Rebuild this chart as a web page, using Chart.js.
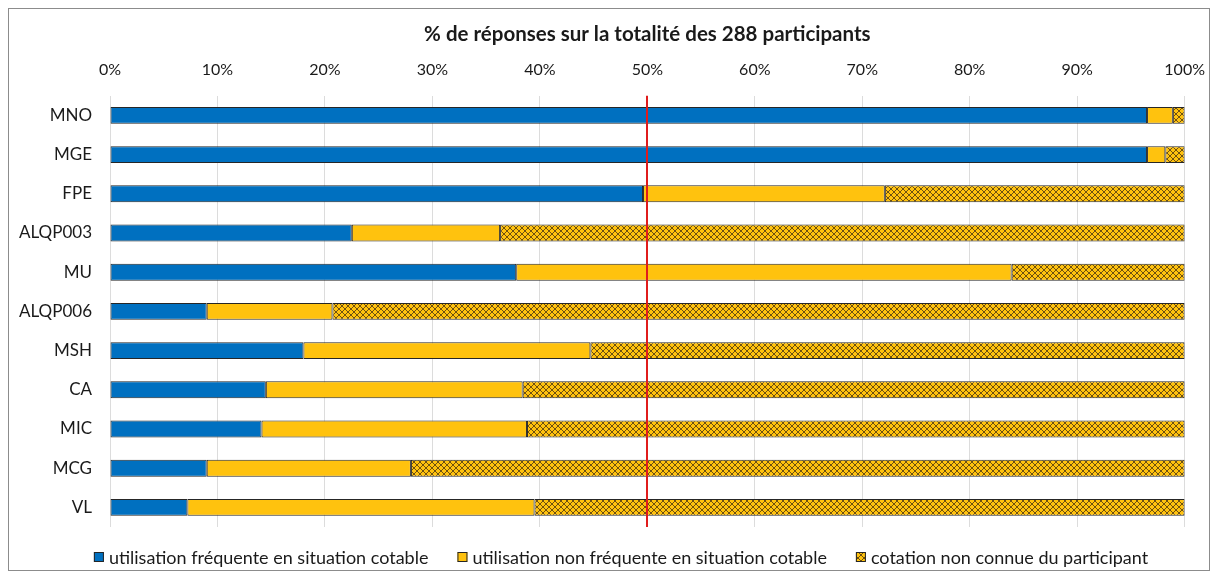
<!DOCTYPE html>
<html>
<head>
<meta charset="utf-8">
<script src="https://cdn.jsdelivr.net/npm/chart.js@4"></script>
<style>
  html, body { margin: 0; padding: 0; background: #fff; }
  #wrap {
    position: absolute; left: 8px; top: 8px;
    width: 1200px; height: 561px;
    border: 1px solid #8c8c8c;
  }
</style>
</head>
<body>
<div id="wrap"><canvas id="chart" width="1200" height="561"></canvas></div>
<script>
const categories = ['MNO', 'MGE', 'FPE', 'ALQP003', 'MU', 'ALQP006', 'MSH', 'CA', 'MIC', 'MCG', 'VL'];
const frequent = [96.5, 96.5, 49.6, 22.5, 37.8, 9.0, 18.0, 14.5, 14.1, 9.0, 7.2];
const notFrequent = [2.4, 1.7, 22.5, 13.8, 46.1, 11.7, 26.7, 23.9, 24.7, 19.0, 32.3];
const unknown = [1.1, 1.8, 27.9, 63.7, 16.1, 79.3, 55.3, 61.6, 61.2, 72.0, 60.5];
const xTicks = [0, 10, 20, 30, 40, 50, 60, 70, 80, 90, 100];
const seriesNames = [
  'utilisation fréquente en situation cotable',
  'utilisation non fréquente en situation cotable',
  'cotation non connue du participant'
];

const FONT = "'Lato', 'Open Sans', sans-serif";

// crosshatch pattern for the third series
function makeHatch() {
  const c = document.createElement('canvas');
  c.width = 6; c.height = 6;
  const g = c.getContext('2d');
  g.fillStyle = '#FFC20E';
  g.fillRect(0, 0, 6, 6);
  g.strokeStyle = '#6e5010';
  g.lineWidth = 1;
  g.beginPath();
  g.moveTo(0, 0); g.lineTo(6, 6);
  g.moveTo(6, 0); g.lineTo(0, 6);
  g.stroke();
  return g.createPattern(c, 'repeat');
}

// red line at 50%
const midLine = {
  id: 'midLine',
  afterDatasetsDraw(chart) {
    const x = Math.round(chart.scales.x.getPixelForValue(50));
    const area = chart.chartArea;
    const ctx = chart.ctx;
    ctx.save();
    ctx.strokeStyle = '#e01c1c';
    ctx.lineWidth = 2;
    ctx.beginPath();
    ctx.moveTo(x, area.top);
    ctx.lineTo(x, area.bottom);
    ctx.stroke();
    ctx.restore();
  }
};

// legend drawn by hand so the spacing can follow the original
const bottomLegend = {
  id: 'bottomLegend',
  afterDraw(chart) {
    const ctx = chart.ctx;
    const box = 10, boxGap = 5, itemGap = 29;
    ctx.save();
    ctx.font = '18px ' + FONT;
    ctx.textBaseline = 'middle';
    const items = chart.data.datasets.map(ds => ({
      text: ds.label, fill: ds.backgroundColor, w: ctx.measureText(ds.label).width
    }));
    const total = items.reduce((s, it) => s + box + boxGap + it.w, 0) + itemGap * (items.length - 1);
    let x = chart.width / 2 + 12 - total / 2;
    const y = 548;
    items.forEach(it => {
      ctx.fillStyle = it.fill;
      ctx.fillRect(x, y - box / 2, box, box);
      ctx.strokeStyle = '#262626';
      ctx.lineWidth = 1;
      ctx.strokeRect(x + 0.5, y - box / 2 + 0.5, box - 1, box - 1);
      ctx.fillStyle = '#1a1a1a';
      ctx.fillText(it.text, x + box + boxGap, y + 1);
      x += box + boxGap + it.w + itemGap;
    });
    ctx.restore();
  }
};

Chart.defaults.font.family = FONT;
Chart.defaults.color = '#1a1a1a';

new Chart(document.getElementById('chart'), {
  type: 'bar',
  data: {
    labels: categories,
    datasets: [
      { label: seriesNames[0], data: frequent, backgroundColor: '#0070C0' },
      { label: seriesNames[1], data: notFrequent, backgroundColor: '#FFC20E' },
      { label: seriesNames[2], data: unknown, backgroundColor: makeHatch() }
    ].map(d => Object.assign(d, {
      borderColor: '#262626', borderWidth: 1, borderSkipped: false,
      barPercentage: 0.86, categoryPercentage: 0.5
    }))
  },
  plugins: [midLine, bottomLegend],
  options: {
    indexAxis: 'y',
    responsive: false,
    animation: false,
    layout: { padding: { left: 0, right: 2, top: 4, bottom: 43 } },
    scales: {
      x: {
        position: 'top',
        stacked: true,
        min: 0, max: 100,
        afterBuildTicks(scale) { scale.ticks = xTicks.map(v => ({ value: v })); },
        afterFit(scale) { scale.height += 10; },
        ticks: { callback: v => v + '%', font: { size: 16 }, padding: 4, maxRotation: 0 },
        grid: { color: '#dcdcdc', drawTicks: true, tickLength: 12, tickColor: 'rgba(0,0,0,0)' },
        border: { display: false }
      },
      y: {
        stacked: true,
        afterFit(scale) { scale.width = 101; },
        ticks: { font: { size: 17 }, padding: 10 },
        grid: { display: false },
        border: { display: false }
      }
    },
    plugins: {
      title: {
        display: true,
        fullSize: false,
        text: '% de réponses sur la totalité des 288 participants',
        font: { size: 20.5, weight: 'bold' },
        color: '#1a1a1a',
        padding: { top: 9, bottom: 0 }
      },
      legend: { display: false },
      tooltip: { enabled: false }
    }
  }
});
</script>
</body>
</html>
